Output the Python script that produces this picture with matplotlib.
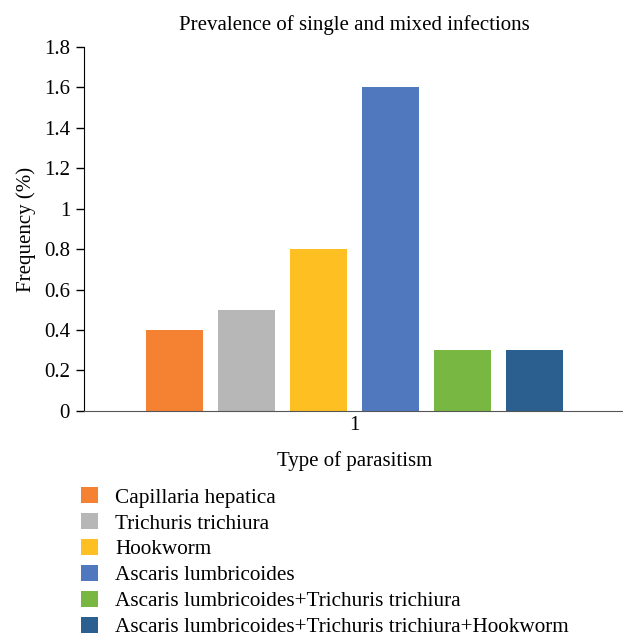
import matplotlib
matplotlib.use('Agg')
import matplotlib.pyplot as plt
import numpy as np

# Data
group_labels = ['1']
series_names = ['Capillaria hepatica', 'Trichuris trichiura', 'Hookworm',
                'Ascaris lumbricoides',
                'Ascaris lumbricoides+Trichuris trichiura',
                'Ascaris lumbricoides+Trichuris trichiura+Hookworm']
series_values = [0.4, 0.5, 0.8, 1.6, 0.3, 0.3]
series_colors = ['#F58233', '#B7B7B7', '#FDBF21', '#4F78BE', '#79B743', '#2B5F8F']
y_ticks = [0, 0.2, 0.4, 0.6, 0.8, 1, 1.2, 1.4, 1.6, 1.8]
y_tick_labels = ['0', '0.2', '0.4', '0.6', '0.8', '1', '1.2', '1.4', '1.6', '1.8']

plt.rcParams['font.family'] = ['Liberation Serif', 'DejaVu Serif']
plt.rcParams['font.size'] = 15

fig = plt.figure(figsize=(6.23, 6.39), dpi=100)
ax = fig.add_axes([0.1348, 0.357, 0.868, 0.5694])

# Bar layout
spacing = 0.133
width = 0.105
n = len(series_values)
for i, (name, val, col) in enumerate(zip(series_names, series_values, series_colors)):
    ax.bar(1 + (i - (n - 1) / 2) * spacing, val, width=width, color=col, label=name)

ax.set_xlim(0.5, 1.5)
ax.set_ylim(0, 1.8)
ax.set_xticks([1])
ax.set_xticklabels(group_labels)
ax.tick_params(axis='x', length=0, pad=4)
ax.set_yticks(y_ticks)
ax.set_yticklabels(y_tick_labels)
ax.tick_params(axis='y', direction='out', length=6, width=1, pad=4)

ax.spines['top'].set_visible(False)
ax.spines['right'].set_visible(False)
ax.spines['bottom'].set_color('#555555')
ax.spines['left'].set_color('black')

ax.set_title('Prevalence of single and mixed infections', fontsize=15, pad=12)
ax.set_ylabel('Frequency (%)', fontsize=15, labelpad=6)
ax.set_xlabel('Type of parasitism', fontsize=15, labelpad=11)

fig.legend(loc='upper left', bbox_to_anchor=(0.130, 0.238), frameon=False,
           handlelength=0.82, handleheight=0.82, handletextpad=0.8,
           labelspacing=0.25, fontsize=15.3, borderaxespad=0, borderpad=0)

fig.savefig('out.png', dpi=100)
plt.close(fig)
